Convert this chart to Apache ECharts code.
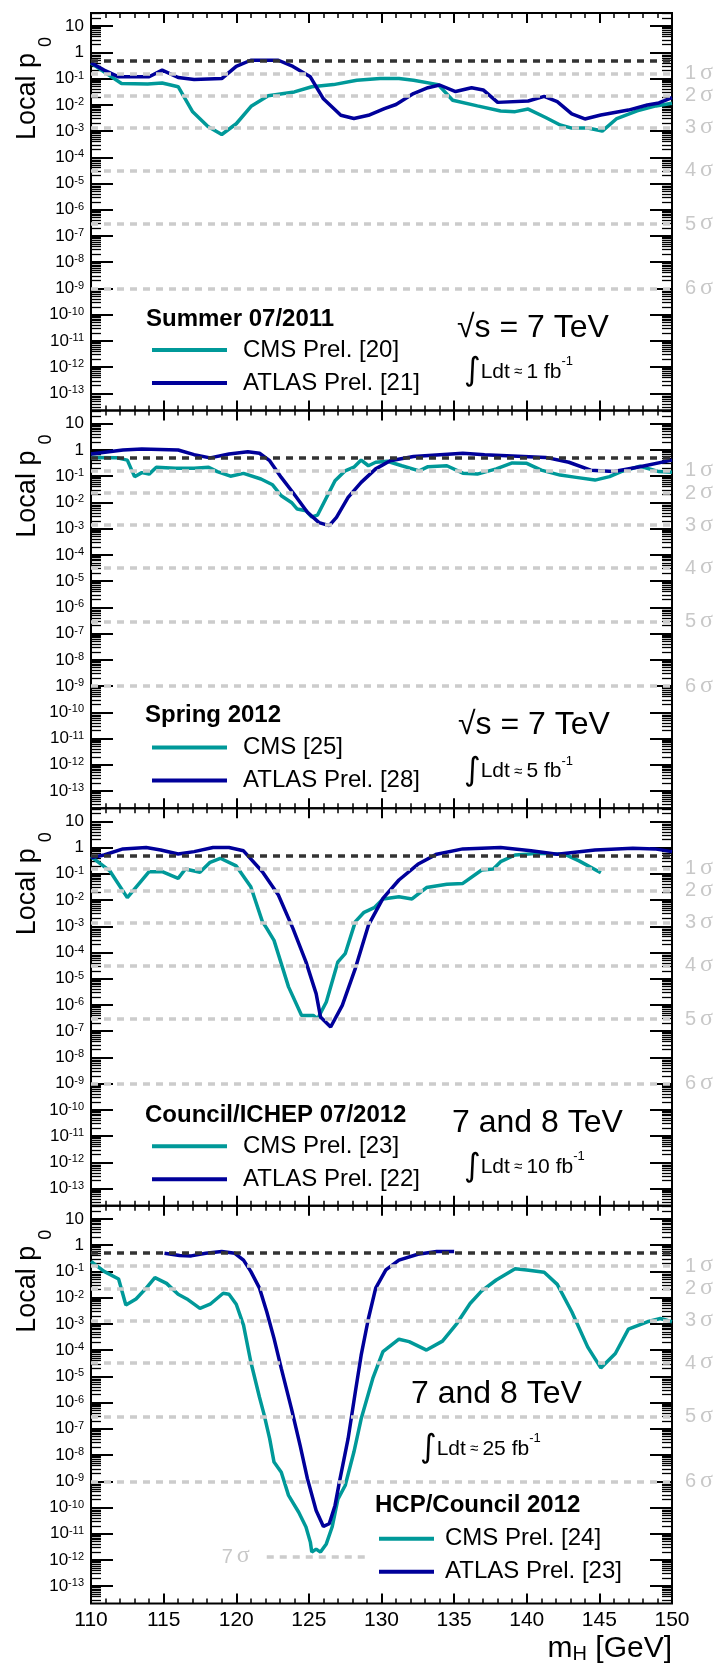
<!DOCTYPE html>
<html>
<head>
<meta charset="utf-8">
<script src="https://cdn.jsdelivr.net/npm/echarts@6/dist/echarts.min.js"></script>
<style>
html,body{margin:0;padding:0;background:#fff;}
#chart{width:717px;height:1664px;}
</style>
</head>
<body>
<div id="chart"></div>
<script>
// ---------------- DATA ----------------
// Summer 07/2011
const cms2011M   = [110,111.0,112.1,113.9,114.9,116.0,117.0,118.05,119.0,120.0,121.05,122.2,124.0,125.2,126.7,128.3,129.9,131.2,132.2,133.9,134.9,136.6,138.2,139.2,140.1,141.3,142.3,143.1,144.2,145.2,146.2,147.6,148.9,150];
const cms2011P   = [0.39,0.165,0.065,0.062,0.068,0.049,0.0054,0.0015,7.4e-4,0.0019,0.0091,0.022,0.031,0.049,0.059,0.087,0.1,0.1,0.087,0.059,0.015,0.0091,0.0058,0.0055,0.0069,0.0033,0.0017,0.0013,0.0013,0.001,0.003,0.0059,0.0091,0.0114];
const atlas2011M = [110,110.9,111.9,114.0,114.9,116.0,117.1,119.0,120.0,121.0,122.9,123.9,125.1,126.0,127.2,128.1,129.1,130.2,131.0,132.2,133.2,134.0,135.1,136.2,137.0,138.0,140.1,141.2,142.1,143.1,144.0,145.1,147.0,148.3,149.1,150];
const atlas2011P = [0.40,0.21,0.117,0.117,0.21,0.11,0.093,0.1,0.29,0.5,0.5,0.29,0.117,0.017,0.004,0.003,0.004,0.0072,0.0103,0.027,0.045,0.057,0.032,0.045,0.037,0.0124,0.014,0.021,0.0132,0.0045,0.0029,0.0041,0.0063,0.0099,0.0118,0.019];

// Spring 2012
const cms2012aM   = [110,111.8,112.5,113.0,113.5,114.0,114.5,115.8,117.1,118.1,118.7,119.6,120.5,121.7,122.5,123.1,123.8,124.2,124.8,125.2,125.6,126.1,126.8,127.5,128.1,128.6,129.1,129.6,130.4,131.4,132.6,133.2,134.5,135.6,136.6,137.9,139.0,140.0,141.0,142.3,143.4,144.7,145.7,146.5,147.8,149.1,150];
const cms2012aP   = [0.52,0.5,0.41,0.096,0.137,0.12,0.22,0.2,0.2,0.22,0.15,0.1,0.128,0.078,0.047,0.018,0.01,0.0056,0.0048,0.0028,0.0033,0.0116,0.067,0.16,0.22,0.41,0.25,0.34,0.37,0.25,0.16,0.23,0.25,0.13,0.12,0.19,0.32,0.31,0.17,0.11,0.09,0.071,0.096,0.15,0.24,0.15,0.14];
const atlas2012aM = [110,112.2,113.5,116.0,117.1,118.2,119.5,120.8,121.6,122.3,123.1,123.9,124.9,125.7,126.4,126.9,127.7,128.6,129.6,130.6,132.2,135.6,137.1,141.3,142.9,144.4,146.0,147.8,150];
const atlas2012aP = [0.7,1.0,1.09,1.0,0.66,0.5,0.7,0.86,0.75,0.39,0.09,0.024,0.0042,0.0017,0.0013,0.0027,0.0155,0.058,0.19,0.39,0.56,0.75,0.66,0.52,0.34,0.17,0.15,0.23,0.41];

// Council/ICHEP 07/2012
const cms2012bM   = [110,111.3,112.5,114.0,114.9,116.0,116.5,117.5,118.2,118.9,120.0,121.0,121.8,122.1,122.6,123.6,124.5,125.3,125.6,126.2,127.0,127.5,128.2,128.8,129.5,130.1,131.2,132.1,133.1,134.5,135.6,136.9,137.7,138.2,139.2,140.8,142.6,143.6,145.1];
const cms2012bP   = [0.45,0.128,0.0123,0.12,0.12,0.067,0.153,0.114,0.275,0.39,0.2,0.032,0.0015,8.3e-4,2.9e-4,4.9e-6,4e-7,4e-7,3e-7,1.3e-6,4.4e-5,9e-5,0.0015,0.0034,0.0051,0.011,0.0134,0.011,0.03,0.04,0.043,0.14,0.153,0.29,0.52,0.6,0.56,0.31,0.11];
const atlas2012bM = [110,110.9,112.2,113.8,114.8,116.0,117.1,118.4,119.5,120.5,121.8,122.9,123.9,124.8,125.5,125.8,126.5,127.3,128.2,129.1,130.1,131.2,132.5,133.8,135.6,138.2,140.3,142.1,144.7,147.3,148.8,150];
const atlas2012bP = [0.41,0.52,0.89,1.0,0.81,0.57,0.7,1.0,1.0,0.75,0.12,0.0155,8.3e-4,4.4e-5,2.7e-6,3.5e-7,1.45e-7,9.7e-7,2.5e-5,0.0011,0.0116,0.058,0.23,0.56,0.89,1.0,0.75,0.56,0.81,0.94,0.89,0.7];

// HCP/Council 2012
const cms2012cM   = [110,110.9,111.9,112.4,113.1,113.8,114.4,115.2,116.0,116.6,117.5,118.2,119.1,119.5,120.0,120.5,121.0,121.6,121.9,122.3,122.6,123.1,123.6,124.3,124.8,125.1,125.2,125.5,125.8,126.2,126.6,127.0,127.5,128.1,128.6,129.4,130.1,131.2,131.9,133.1,134.2,135.2,136.1,136.9,137.9,139.2,140.0,141.2,142.1,143.1,144.2,145.1,146.1,147.0,148.3,149.2,150];
const cms2012cP   = [0.24,0.1,0.051,0.0052,0.0089,0.023,0.058,0.035,0.0134,0.0089,0.0039,0.0056,0.0147,0.0134,0.0056,9e-4,3.6e-5,1.6e-6,3.8e-7,4.2e-8,5.4e-9,2.2e-9,2.9e-10,6.6e-11,1.8e-11,4.8e-12,2e-12,2.6e-12,2e-12,4.1e-12,1.8e-11,2.1e-10,6.9e-10,1.3e-8,2.4e-7,8.3e-6,8.7e-5,2.6e-4,2.1e-4,1e-4,2.2e-4,0.00105,0.006,0.018,0.047,0.125,0.114,0.093,0.032,0.0029,1.3e-4,2.1e-5,7.4e-5,6.3e-4,0.0012,0.0016,0.0012];
const atlas2012cM = [115.06,116.1,116.9,117.9,119.0,119.9,120.5,121.0,121.6,122.1,122.6,123.1,123.8,124.4,124.9,125.5,126.0,126.4,126.8,127.1,127.7,128.2,128.6,129.1,129.6,130.3,131.2,132.5,133.8,135.0];
const atlas2012cP = [0.49,0.4,0.39,0.49,0.57,0.49,0.27,0.1,0.023,0.0029,2.8e-4,2e-5,5.9e-7,2.3e-8,1.26e-9,7.7e-11,1.9e-11,2.4e-11,1.2e-10,9.3e-10,4.2e-8,2.6e-6,6.4e-5,0.0016,0.023,0.114,0.27,0.45,0.57,0.57];

// Labels
const panelTitles = ['Summer 07/2011', 'Spring 2012', 'Council/ICHEP 07/2012', 'HCP/Council 2012'];
const cmsNames    = ['CMS Prel. [20]', 'CMS [25]', 'CMS Prel. [23]', 'CMS Prel. [24]'];
const atlasNames  = ['ATLAS Prel. [21]', 'ATLAS Prel. [28]', 'ATLAS Prel. [22]', 'ATLAS Prel. [23]'];
const energyTexts = ['√s = 7 TeV', '√s = 7 TeV', '7 and 8 TeV', '7 and 8 TeV'];
const lumiValues  = ['1', '5', '10', '25'];

// Reference levels
const halfP = 0.5;
const sigmaLevels = [1, 2, 3, 4, 5, 6];
const sigmaP = [1.587e-1, 2.275e-2, 1.350e-3, 3.167e-5, 2.867e-7, 9.866e-10];
const sevenSigmaLevel = 7;
const sevenSigmaP = 1.280e-12;
const sevenSigmaRange = [122.1, 129.0];

// Axis ticks
const yTickExponents = [1, 0, -1, -2, -3, -4, -5, -6, -7, -8, -9, -10, -11, -12, -13];
const xMin = 110, xMax = 150, xStep = 5;

// ---------------- LAYOUT ----------------
const FONT = 'Liberation Sans';
const CMS_COLOR = '#009999';
const ATLAS_COLOR = '#00009a';
const GRID_LEFT = 91, GRID_W = 581, TOP0 = 13, PANEL_H = 397.6;
const YMAX = Math.pow(10, 1.5), YMIN = Math.pow(10, 1.5 - PANEL_H / 26.236);
const tops = [0, 1, 2, 3].map(i => TOP0 + PANEL_H * i);

const layout = [
  {title:[146,306], energy:[457,315], lumi:[464,359], legend:{left:152, row1:337, w:75, gap:11}},
  {title:[145,305], energy:[458,315], lumi:[464,361], legend:{left:152, row1:337, w:75, gap:11}},
  {title:[145,307], energy:[452,315], lumi:[464,359], legend:{left:152, row1:338, w:75, gap:11}},
  {title:[375,300], energy:[411,188], lumi:[420,243], legend:{left:379, row1:333, w:55, gap:6}}
];

const majorY = yTickExponents.map(e => Math.pow(10, e));
const minorY = [];
for (let e = -14; e <= 1; e++) {
  for (let k = 2; k <= 9; k++) {
    const v = k * Math.pow(10, e);
    if (v > YMIN && v < YMAX) minorY.push(v);
  }
}

const zip = (m, p) => m.map((x, i) => [x, p[i]]);
const panels = [
  {cms: zip(cms2011M, cms2011P), atlas: zip(atlas2011M, atlas2011P)},
  {cms: zip(cms2012aM, cms2012aP), atlas: zip(atlas2012aM, atlas2012aP)},
  {cms: zip(cms2012bM, cms2012bP), atlas: zip(atlas2012bM, atlas2012bP)},
  {cms: zip(cms2012cM, cms2012cP), atlas: zip(atlas2012cM, atlas2012cP)}
];

const sigmaRich = {
  n: {fontSize: 20, fontFamily: FONT, color: '#c8c8c8'},
  s: {fontSize: 24, fontFamily: 'Liberation Serif', color: '#c8c8c8', padding: [0, 0, 2, 4]}
};

const yLabelFormatter = v => {
  const e = Math.round(Math.log10(v));
  if (e === 1) return '{b|10}';
  if (e === 0) return '{b|1}';
  return '{b|10}{e|' + e + '}';
};

const grids = [], xAxes = [], yAxes = [], series = [], legends = [], graphics = [];

tops.forEach((top, i) => {
  grids.push({left: GRID_LEFT, top: top, width: GRID_W, height: PANEL_H, show: true,
    borderColor: '#000', borderWidth: 2, backgroundColor: 'transparent'});

  const xBase = {
    type: 'value', gridIndex: i, min: xMin, max: xMax, interval: xStep,
    axisLine: {show: false, onZero: false}, splitLine: {show: false},
    axisTick: {show: true, inside: true, length: 10, lineStyle: {color: '#000', width: 2}},
    minorTick: {show: true, splitNumber: 5, length: 5, lineStyle: {color: '#000', width: 1.5}}
  };
  xAxes.push(Object.assign({}, xBase, {position: 'bottom',
    axisLabel: {show: i === 3, fontSize: 21, fontFamily: FONT, color: '#000', margin: 6}}));
  xAxes.push(Object.assign({}, xBase, {position: 'top', axisLabel: {show: false}}));

  const yBase = {type: 'log', logBase: 10, gridIndex: i, min: YMIN, max: YMAX,
    axisLine: {show: false, onZero: false}, splitLine: {show: false}, minorTick: {show: false}};
  const majTick = {show: true, inside: true, length: 22, customValues: majorY, lineStyle: {color: '#000', width: 2}};
  const minTick = {show: true, inside: true, length: 10, customValues: minorY, lineStyle: {color: '#000', width: 1.3}};
  yAxes.push(Object.assign({}, yBase, {position: 'left', axisTick: majTick,
    axisLabel: {show: true, customValues: majorY, formatter: yLabelFormatter, margin: 7, color: '#000',
      rich: {
        b: {fontSize: 17, lineHeight: 17, fontFamily: FONT, color: '#000'},
        e: {fontSize: 11, lineHeight: 11, fontFamily: FONT, color: '#000', verticalAlign: 'top', padding: [0, 0, 12, 0]}
      }}}));
  yAxes.push(Object.assign({}, yBase, {position: 'right', axisTick: majTick, axisLabel: {show: false}}));
  yAxes.push(Object.assign({}, yBase, {position: 'left', axisTick: minTick, axisLabel: {show: false}}));
  yAxes.push(Object.assign({}, yBase, {position: 'right', axisTick: minTick, axisLabel: {show: false}}));

  const dash = [7, 6];
  const refLines = [
    {yAxis: halfP, lineStyle: {color: '#333333', type: dash, width: 3.5}, label: {show: false}}
  ].concat(sigmaP.map((p, k) => ({
    yAxis: p,
    lineStyle: {color: '#cccccc', type: dash, width: 3.5},
    label: {show: true, position: 'end', distance: 13, formatter: '{n|' + sigmaLevels[k] + '}{s|σ}', rich: sigmaRich}
  })));
  if (i === 3) {
    refLines.push([
      {coord: [sevenSigmaRange[0], sevenSigmaP],
       lineStyle: {color: '#cccccc', type: dash, width: 3.5},
       label: {show: true, position: 'start', distance: 17, formatter: '{n|' + sevenSigmaLevel + '}{s|σ}', rich: sigmaRich}},
      {coord: [sevenSigmaRange[1], sevenSigmaP]}
    ]);
  }

  series.push({
    type: 'line', name: cmsNames[i], xAxisIndex: 2 * i, yAxisIndex: 4 * i,
    data: panels[i].cms, showSymbol: false, symbol: 'none', z: 2,
    lineStyle: {color: CMS_COLOR, width: 3.5}, itemStyle: {color: CMS_COLOR},
    markLine: {silent: true, symbol: ['none', 'none'], animation: false, z: 5, precision: 20, data: refLines}
  });
  series.push({
    type: 'line', name: atlasNames[i], xAxisIndex: 2 * i, yAxisIndex: 4 * i,
    data: panels[i].atlas, showSymbol: false, symbol: 'none', z: 3,
    lineStyle: {color: ATLAS_COLOR, width: 3.5}, itemStyle: {color: ATLAS_COLOR}
  });

  const L = layout[i];
  legends.push({
    data: [cmsNames[i], atlasNames[i]], orient: 'vertical', left: L.legend.left,
    top: top + L.legend.row1 - 12, itemWidth: L.legend.w, itemHeight: 4, icon: 'rect',
    itemGap: 9, padding: 0, selectedMode: false,
    textStyle: {fontSize: 24, lineHeight: 24, fontFamily: FONT, color: '#000', padding: [0, 0, 0, L.legend.gap]}
  });

  graphics.push({type: 'text', x: L.title[0], y: top + L.title[1],
    style: {text: panelTitles[i], font: 'bold 24px "Liberation Sans"', fill: '#000', align: 'left', verticalAlign: 'middle'}});
  graphics.push({type: 'text', x: L.energy[0], y: top + L.energy[1],
    style: {text: energyTexts[i], font: '32px "Liberation Sans"', fill: '#000', align: 'left', verticalAlign: 'middle'}});
  graphics.push({type: 'text', x: L.lumi[0], y: top + L.lumi[1],
    style: {text: '{i|∫}{t|Ldt}{a| ≈ }{t|' + lumiValues[i] + ' fb}{s|-1}', align: 'left', verticalAlign: 'middle',
      rich: {
        i: {fontSize: 32, lineHeight: 34, fontFamily: 'DejaVu Sans', fill: '#000'},
        t: {fontSize: 21, lineHeight: 21, fontFamily: FONT, fill: '#000'},
        a: {fontSize: 15, lineHeight: 15, fontFamily: FONT, fill: '#000'},
        s: {fontSize: 13, lineHeight: 17, fontFamily: FONT, fill: '#000', verticalAlign: 'top'}
      }}});
  graphics.push({type: 'text', x: 27.5, y: top + 40, rotation: Math.PI / 2,
    style: {text: 'Local p', font: '27px "Liberation Sans"', fill: '#000', align: 'right', verticalAlign: 'middle'}});
  graphics.push({type: 'text', x: 46.5, y: top + 24, rotation: Math.PI / 2,
    style: {text: '0', font: '18px "Liberation Sans"', fill: '#000', align: 'right', verticalAlign: 'middle'}});
});

graphics.push({type: 'text', x: 672, y: 1649,
  style: {text: '{m|m}{h|H}{g| [GeV]}', align: 'right', verticalAlign: 'middle',
    rich: {
      m: {fontSize: 30, lineHeight: 30, fontFamily: FONT, fill: '#000'},
      h: {fontSize: 20, lineHeight: 20, fontFamily: FONT, fill: '#000', verticalAlign: 'bottom', padding: [16, 0, 0, 0]},
      g: {fontSize: 30, lineHeight: 30, fontFamily: FONT, fill: '#000'}
    }}});

const chart = echarts.init(document.getElementById('chart'), null, {renderer: 'canvas'});
chart.setOption({
  backgroundColor: '#ffffff',
  animation: false,
  textStyle: {fontFamily: FONT},
  grid: grids,
  xAxis: xAxes,
  yAxis: yAxes,
  legend: legends,
  series: series,
  graphic: {elements: graphics}
});
</script>
</body>
</html>
